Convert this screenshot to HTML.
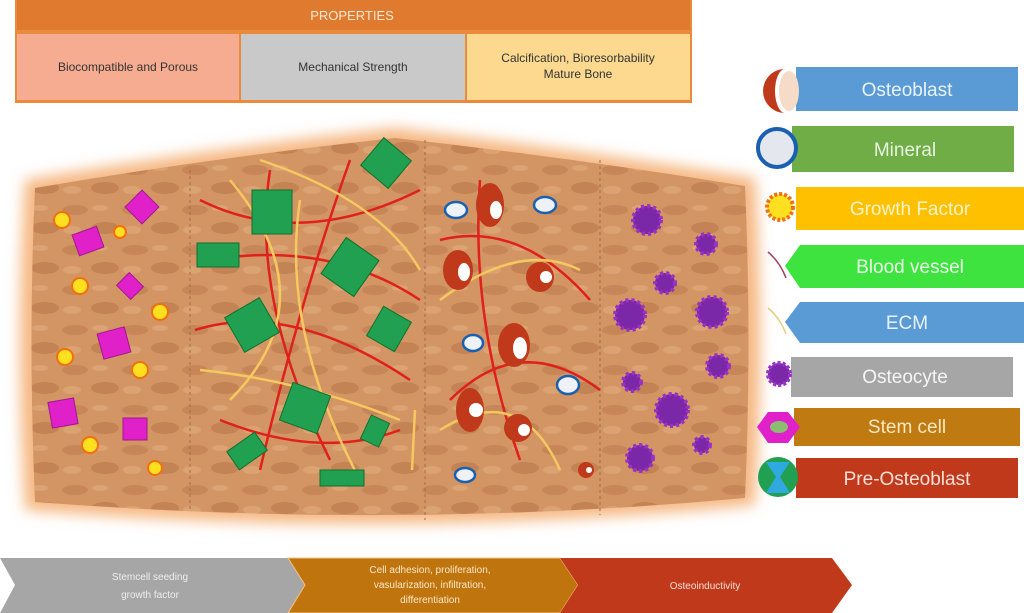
<!DOCTYPE html>
<html><head><meta charset="utf-8"><style>
body{margin:0;width:1024px;height:613px;overflow:hidden;background:#fff;font-family:"Liberation Sans",sans-serif}
svg{display:block}
</style></head><body>
<svg width="1024" height="613" viewBox="0 0 1024 613" xmlns="http://www.w3.org/2000/svg" font-family="Liberation Sans, sans-serif">
<defs>
<filter id="glow" x="-10%" y="-10%" width="120%" height="120%"><feGaussianBlur stdDeviation="7"/></filter>
<pattern id="tex" width="60" height="40" patternUnits="userSpaceOnUse">
<rect width="60" height="40" fill="#d39564"/>
<ellipse cx="15" cy="10" rx="13" ry="5" fill="#c68657"/>
<ellipse cx="45" cy="28" rx="14" ry="6" fill="#c48354"/>
<ellipse cx="40" cy="8" rx="8" ry="3" fill="#dca374"/>
<ellipse cx="12" cy="30" rx="9" ry="4" fill="#dba272"/>
</pattern>
</defs>
<rect x="15" y="0" width="677" height="103" fill="#e98a3c"/>
<rect x="17" y="0" width="673" height="30" fill="#e07a2e"/>
<text x="352" y="20" font-size="13" fill="#fde8d8" text-anchor="middle">PROPERTIES</text>
<rect x="17" y="34" width="222" height="66" fill="#f6ac90"/>
<rect x="241" y="34" width="224" height="66" fill="#c9c9c9"/>
<rect x="467" y="34" width="223" height="66" fill="#fcd98e"/>
<text x="128" y="71" font-size="12" text-anchor="middle" fill="#333">Biocompatible and Porous</text>
<text x="353" y="71" font-size="12" text-anchor="middle" fill="#333">Mechanical Strength</text>
<text x="578" y="62" font-size="12" text-anchor="middle" fill="#333">Calcification, Bioresorbability</text>
<text x="578" y="78" font-size="12" text-anchor="middle" fill="#333">Mature Bone</text>
<path d="M25 180 Q200 150 395 128 Q580 150 755 178 Q765 340 755 505 Q400 540 25 510 Q15 340 25 180 Z" fill="#f6b883" filter="url(#glow)"/>
<path d="M35 188 Q210 158 395 138 Q575 158 745 186 Q752 340 745 498 Q400 530 35 502 Q28 340 35 188 Z" fill="url(#tex)"/>
<g stroke="#a06a48" stroke-dasharray="3,3" stroke-width="1">
<line x1="190" y1="170" x2="190" y2="510"/><line x1="425" y1="140" x2="425" y2="520"/><line x1="600" y1="160" x2="600" y2="515"/>
</g>
<g fill="none" stroke-width="2.5">
<path d="M200 200 Q300 250 420 190" stroke="#e0201a"/>
<path d="M195 330 Q290 300 410 380" stroke="#e0201a"/>
<path d="M220 420 Q320 460 400 430" stroke="#e0201a"/>
<path d="M270 170 Q250 300 330 460" stroke="#e0201a"/>
<path d="M350 160 Q300 300 260 470" stroke="#e0201a"/>
<path d="M210 260 Q330 240 420 300" stroke="#e0201a"/>
<path d="M440 240 Q520 220 590 300" stroke="#e0201a"/>
<path d="M450 400 Q520 330 600 390" stroke="#e0201a"/>
<path d="M480 180 Q470 320 520 460" stroke="#e0201a"/>
<path d="M230 180 Q330 300 230 400" stroke="#f5c860"/>
<path d="M260 160 Q380 200 420 270" stroke="#f5c860"/>
<path d="M200 370 Q300 380 400 420" stroke="#f5c860"/>
<path d="M300 200 Q280 330 360 480" stroke="#f5c860"/>
<path d="M440 300 Q520 240 580 270" stroke="#f5c860"/>
<path d="M440 430 Q520 380 560 470" stroke="#f5c860"/>
<path d="M415 410 L412 470" stroke="#f5c860"/>
</g>
<g fill="#e020c8" stroke="#a01890">
<rect x="75" y="230" width="26" height="22" transform="rotate(-20 88 241)"/><rect x="130" y="195" width="24" height="24" transform="rotate(45 142 207)"/>
<rect x="120" y="277" width="20" height="18" transform="rotate(45 130 286)"/><rect x="100" y="330" width="28" height="26" transform="rotate(-15 114 343)"/>
<rect x="50" y="400" width="26" height="26" transform="rotate(-10 63 413)"/><rect x="123" y="418" width="24" height="22"/>
</g>
<g fill="#ffe020" stroke="#f07010" stroke-width="2">
<circle cx="62" cy="220" r="8"/><circle cx="120" cy="232" r="6"/><circle cx="80" cy="286" r="8"/><circle cx="160" cy="312" r="8"/>
<circle cx="65" cy="357" r="8"/><circle cx="140" cy="370" r="8"/><circle cx="90" cy="445" r="8"/><circle cx="155" cy="468" r="7"/>
</g>
<g fill="#20a050" stroke="#107030">
<rect x="252" y="190" width="40" height="44"/><rect x="197" y="243" width="42" height="24"/><rect x="368" y="145" width="36" height="36" transform="rotate(40 386 163)"/>
<rect x="330" y="245" width="40" height="44" transform="rotate(35 350 267)"/><rect x="232" y="305" width="40" height="40" transform="rotate(-30 252 325)"/>
<rect x="373" y="312" width="32" height="34" transform="rotate(30 389 329)"/><rect x="285" y="388" width="40" height="40" transform="rotate(20 305 408)"/>
<rect x="365" y="418" width="20" height="26" transform="rotate(25 375 431)"/><rect x="230" y="440" width="34" height="22" transform="rotate(-35 247 451)"/>
<rect x="320" y="470" width="44" height="16"/>
</g>
<g fill="#c0391a"><ellipse cx="490" cy="205" rx="14" ry="22"/><ellipse cx="458" cy="270" rx="15" ry="20"/><ellipse cx="540" cy="277" rx="14" ry="15"/>
<ellipse cx="514" cy="345" rx="16" ry="22"/><ellipse cx="470" cy="410" rx="14" ry="22"/><ellipse cx="518" cy="428" rx="14" ry="14"/><circle cx="586" cy="470" r="8"/></g>
<g fill="#fff"><ellipse cx="496" cy="210" rx="6" ry="9"/><ellipse cx="464" cy="272" rx="6" ry="9"/><circle cx="546" cy="277" r="6"/>
<ellipse cx="520" cy="348" rx="7" ry="11"/><circle cx="476" cy="410" r="7"/><circle cx="524" cy="430" r="6"/><circle cx="589" cy="470" r="3"/></g>
<g fill="#eef2f6" stroke="#1a60b0" stroke-width="2.5"><ellipse cx="456" cy="210" rx="11" ry="8"/><ellipse cx="545" cy="205" rx="11" ry="8"/>
<ellipse cx="473" cy="343" rx="10" ry="8"/><ellipse cx="568" cy="385" rx="11" ry="9"/><ellipse cx="465" cy="475" rx="10" ry="7"/></g>
<g fill="#7a28a8" stroke="#9a30c8" stroke-width="4" stroke-dasharray="3,3">
<circle cx="647" cy="220" r="14"/><circle cx="706" cy="244" r="10"/><circle cx="665" cy="283" r="10"/><circle cx="630" cy="315" r="15"/>
<circle cx="712" cy="312" r="15"/><circle cx="718" cy="366" r="11"/><circle cx="632" cy="382" r="9"/><circle cx="672" cy="410" r="16"/>
<circle cx="702" cy="445" r="8"/><circle cx="640" cy="458" r="13"/></g>
<g font-size="19" text-anchor="middle">
<rect x="796" y="67" width="222" height="44" fill="#5b9bd5"/><text x="907" y="96" fill="#e8f2fc">Osteoblast</text>
<rect x="792" y="126" width="222" height="46" fill="#70ad47"/><text x="905" y="156" fill="#e8f5e0">Mineral</text>
<rect x="796" y="187" width="228" height="43" fill="#ffc000"/><text x="910" y="215" fill="#fff3c8">Growth Factor</text>
<path d="M800 245 L1024 245 L1024 288 L800 288 L785 266 Z" fill="#3fe33f"/><text x="910" y="273" fill="#e8ffe8">Blood vessel</text>
<path d="M800 302 L1024 302 L1024 343 L800 343 L785 322 Z" fill="#5b9bd5"/><text x="907" y="329" fill="#e8f2fc">ECM</text>
<rect x="791" y="357" width="222" height="40" fill="#a6a6a6"/><text x="905" y="383" fill="#f5f5f5">Osteocyte</text>
<rect x="794" y="408" width="226" height="38" fill="#c07a12"/><text x="907" y="433" fill="#fde8c0">Stem cell</text>
<rect x="796" y="458" width="222" height="40" fill="#c0391a"/><text x="907" y="485" fill="#fde0d8">Pre-Osteoblast</text>
</g>
<path d="M785 69 A22 22 0 1 0 785 113 A10 22 0 0 1 785 69Z" fill="#c0391a"/><ellipse cx="789" cy="91" rx="10" ry="20" fill="#f6dcc8"/>
<circle cx="777" cy="148" r="19" fill="#e4e8ee" stroke="#1a60b0" stroke-width="4"/>
<circle cx="780" cy="207" r="13" fill="#ffe020" stroke="#f07010" stroke-width="4" stroke-dasharray="3,2"/>
<path d="M768 252 Q780 262 786 278" stroke="#a04060" fill="none" stroke-width="1.5"/>
<path d="M768 308 Q780 318 786 334" stroke="#e0d080" fill="none" stroke-width="1.5"/>
<circle cx="779" cy="374" r="11" fill="#7a28a8" stroke="#9a30c8" stroke-width="4" stroke-dasharray="3,2"/>
<path d="M768 412 L788 412 L800 427 L788 443 L768 443 L757 427Z" fill="#e020c8"/><ellipse cx="779" cy="427" rx="9" ry="6" fill="#8cbc70"/>
<circle cx="778" cy="477" r="20" fill="#20a050"/><path d="M766 462 L790 462 L780 477 L790 493 L766 493 L776 477Z" fill="#30a8e0"/>
<path d="M0 558 L288 558 L305 585 L288 613 L0 613 L15 585Z" fill="#a6a6a6"/>
<path d="M288 558 L560 558 L578 585 L560 613 L288 613 L305 585Z" fill="#c0740e" stroke="#f5c080"/>
<path d="M560 558 L832 558 L852 585 L832 613 L560 613 L578 585Z" fill="#c0391a"/>
<g font-size="10" text-anchor="middle">
<text x="150" y="580" fill="#eee">Stemcell seeding</text><text x="150" y="598" fill="#eee">growth factor</text>
<text x="430" y="573" fill="#fde8c8">Cell adhesion, proliferation,</text><text x="430" y="588" fill="#fde8c8">vasularization, infiltration,</text><text x="430" y="603" fill="#fde8c8">differentiation</text>
<text x="705" y="589" fill="#fde0d8">Osteoinductivity</text>
</g>
</svg>
</body></html>
